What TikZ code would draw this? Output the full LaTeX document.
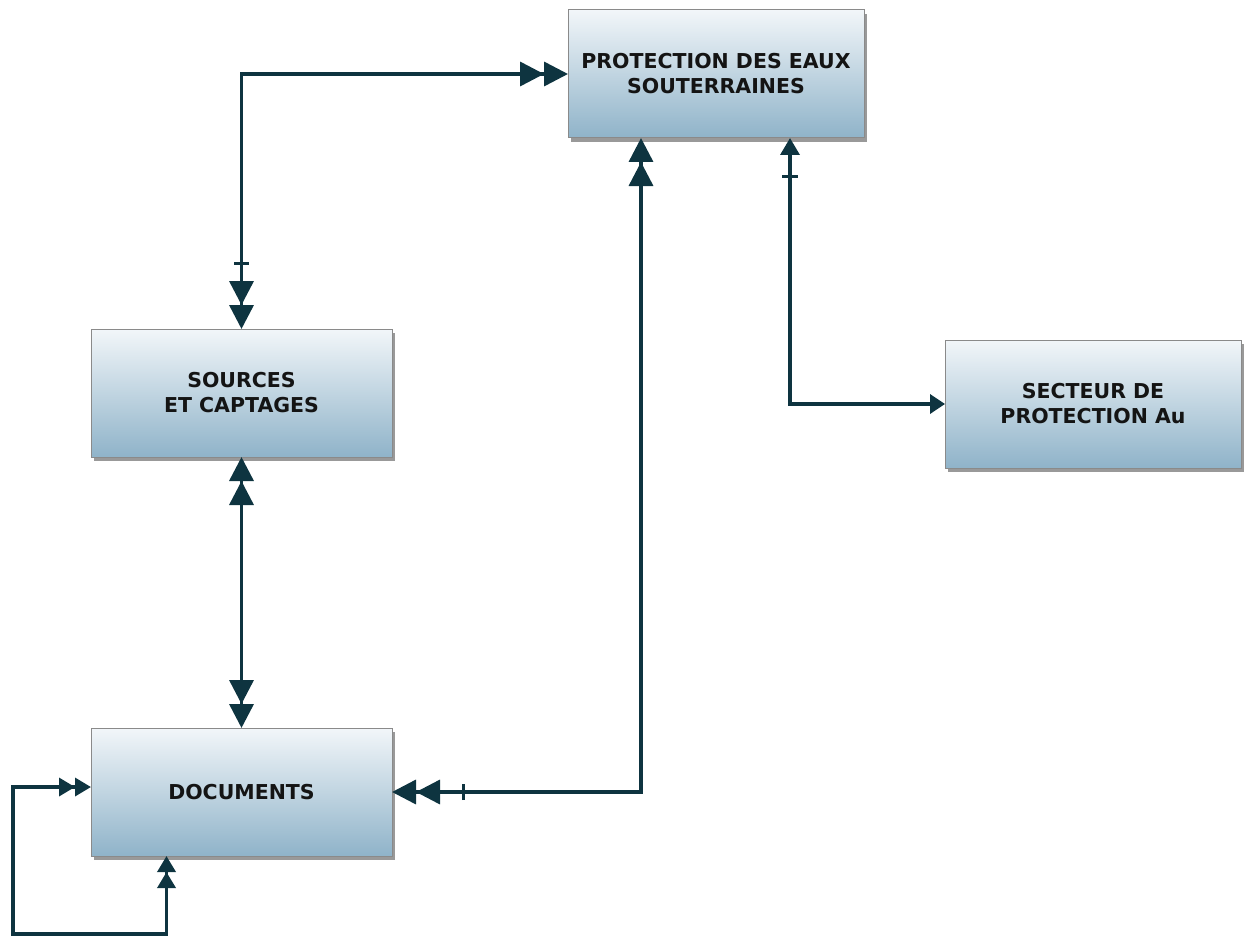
\documentclass[tikz,border=0pt]{standalone}
\usepackage{fontspec}
\setmainfont{DejaVu Sans}
\usetikzlibrary{arrows.meta,shadows}
\definecolor{lnk}{HTML}{0E3440}
\definecolor{boxtop}{HTML}{F2F6F9}
\definecolor{boxbot}{HTML}{8FB3C9}
\definecolor{boxedge}{HTML}{8A8A8A}
\tikzset{
  box/.style={rectangle, draw=boxedge, line width=1pt, top color=boxtop, bottom color=boxbot,
    minimum height=128pt, inner sep=0pt, outer sep=0pt, align=center,
    font=\fontsize{20.5}{25}\selectfont\bfseries, text=black!92,
    drop shadow={shadow xshift=3pt, shadow yshift=-4pt, fill=black, opacity=0.4}},
  link/.style={draw=lnk, line width=3.5pt},
  tickmark/.style={draw=lnk, line width=3pt},
  big/.tip={Triangle[length=24pt,width=24pt]},
  mid/.tip={Triangle[length=17pt,width=19pt]},
  sml/.tip={Triangle[length=15pt,width=19pt]},
  tiny/.tip={Triangle[length=16pt,width=18pt]},
}
\begin{document}
\begin{tikzpicture}[x=1pt,y=-1pt]
\useasboundingbox (0,0) rectangle (1246,936);
\node[box, minimum width=296pt] (prot) at (716,74) {PROTECTION DES EAUX\\SOUTERRAINES};
\node[box, minimum width=301pt] (src) at (241.5,393) {SOURCES\\ET CAPTAGES};
\node[box, minimum width=296pt] (sec) at (1093,404) {SECTEUR DE\\PROTECTION Au};
\node[box, minimum width=301pt] (doc) at (241.5,792) {DOCUMENTS};
\coordinate (lc) at (13,934);
% sources <-> protection
\draw[link, {big[]big[]}-{big[]big[]}] (src.north) |- (prot.west);
\draw[tickmark] ([yshift=66pt]src.north) +(-7.5pt,0) -- +(7.5pt,0);
% sources <-> documents
\draw[link, {big[]big[]}-{big[]big[]}] (src.south) -- (doc.north);
% documents <-> protection
\draw[link, {big[]big[]}-{big[]big[]}] ([xshift=-75pt]prot.south) |- (doc.east);
\draw[tickmark] ([xshift=71pt]doc.east) +(0,-8pt) -- +(0,8pt);
% protection <-> secteur
\draw[link, {mid[]}-{sml[]}] ([xshift=74pt]prot.south) |- (sec.west);
\draw[tickmark] ([shift={(74pt,-39pt)}]prot.south) +(-8pt,0) -- +(8pt,0);
% documents self loop
\draw[link, {tiny[]tiny[]}-{tiny[]tiny[]}] ([yshift=5pt]doc.west) -| (lc) -| ([xshift=-75pt]doc.south);
\end{tikzpicture}
\end{document}
